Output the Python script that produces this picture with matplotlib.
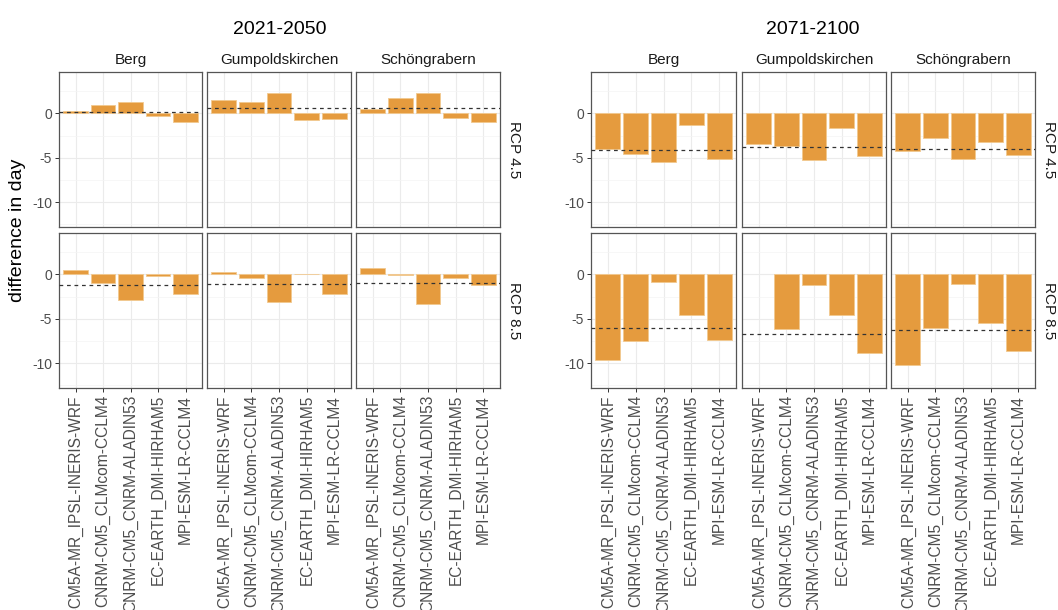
import numpy as np
import matplotlib
matplotlib.use("Agg")
from matplotlib import pyplot as plt

plt.rcParams['font.family'] = ['Liberation Sans', 'DejaVu Sans']

models = ["IPSL-CM5A-MR_IPSL-INERIS-WRF", "CNRM-CM5_CLMcom-CCLM4", "CNRM-CM5_CNRM-ALADIN53",
          "EC-EARTH_DMI-HIRHAM5", "MPI-ESM-LR-CCLM4"]
sites = ["Berg", "Gumpoldskirchen", "Schöngrabern"]
scenarios = ["RCP 4.5", "RCP 8.5"]
periods = ["2021-2050", "2071-2100"]

# rows: sites, columns: models
near_rcp45 = [[0.27, 0.90, 1.26, -0.30, -0.95],
              [1.45, 1.26, 2.29, -0.76, -0.69],
              [0.53, 1.72, 2.29, -0.57, -0.95]]
near_rcp85 = [[0.52, -0.93, -2.90, -0.15, -2.27],
              [0.30, -0.45, -3.09, 0.08, -2.27],
              [0.74, -0.11, -3.35, -0.37, -1.19]]
far_rcp45 = [[-4.03, -4.59, -5.49, -1.34, -5.11],
             [-3.43, -3.66, -5.30, -1.60, -4.85],
             [-4.22, -2.76, -5.11, -3.28, -4.74]]
far_rcp85 = [[-9.63, -7.47, -0.89, -4.61, -7.43],
             [np.nan, -6.20, -1.26, -4.54, -8.85],
             [-10.19, -6.02, -1.04, -5.50, -8.59]]

# ensemble reference per site (dashed line)
near_rcp45_ens = [0.15, 0.65, 0.57]
near_rcp85_ens = [-1.23, -1.12, -0.97]
far_rcp45_ens = [-4.14, -3.80, -4.03]
far_rcp85_ens = [-6.10, -6.73, -6.25]

data = {(0, 0): (near_rcp45, near_rcp45_ens), (0, 1): (near_rcp85, near_rcp85_ens),
        (1, 0): (far_rcp45, far_rcp45_ens), (1, 1): (far_rcp85, far_rcp85_ens)}

W, H = 1058, 610
BAR = '#E59B3E'
TXT = '#4D4D4D'

fig = plt.figure(figsize=(W / 100, H / 100), dpi=100)


def box(x0, y0, x1, y1):
    return [x0 / W, 1 - y1 / H, (x1 - x0) / W, (y1 - y0) / H]


col_x = [[(59, 202), (207, 351), (356, 500)],
         [(591, 736), (742, 886), (891, 1035)]]
row_y = [(72, 227), (233, 388)]
title_x = [280, 813]

for p in range(2):
    fig.text(title_x[p] / W, 1 - 30 / H, periods[p], ha='center', va='center',
             fontsize=14, color='black')
    for s in range(2):
        vals, ens = data[(p, s)]
        for j in range(3):
            x0, x1 = col_x[p][j]
            y0, y1 = row_y[s]
            ax = fig.add_axes(box(x0, y0, x1, y1))
            xs = np.arange(len(models))
            ax.bar(xs, vals[j], width=0.9, color=BAR, edgecolor='#F2C98F',
                   linewidth=0.6, zorder=2)
            ax.axhline(ens[j], color='#333333', lw=0.9, ls=(0, (3, 3)), zorder=3)
            ax.set_xlim(-0.6, 4.6)
            ax.set_ylim(-12.8, 4.65)
            ax.set_yticks([0, -5, -10])
            ax.set_yticks([2.5, -2.5, -7.5, -12.5], minor=True)
            ax.set_xticks(xs)
            ax.grid(True, which='major', color='#EBEBEB', lw=0.8, zorder=0)
            ax.grid(True, which='minor', axis='y', color='#F4F4F4', lw=0.5, zorder=0)
            ax.set_axisbelow(True)
            for sp in ax.spines.values():
                sp.set_color('#555555')
                sp.set_linewidth(0.9)
            ax.tick_params(which='minor', length=0)
            ax.tick_params(which='major', length=3, width=0.7, color='#333333',
                           labelcolor=TXT, pad=2)
            if j == 0:
                ax.set_yticklabels(['0', '-5', '-10'], fontsize=10)
            else:
                ax.tick_params(axis='y', length=0, labelleft=False)
            if s == 1:
                ax.set_xticklabels(models, rotation=90, fontsize=11.2, va='top')
            else:
                ax.tick_params(axis='x', length=0, labelbottom=False)
            if s == 0:
                fig.text((x0 + x1) / 2 / W, 1 - 60 / H, sites[j], ha='center',
                         va='center', fontsize=11, color='#1A1A1A')
            if j == 2:
                fig.text((x1 + 14) / W, 1 - (y0 + y1) / 2 / H, scenarios[s],
                         rotation=270, ha='center', va='center', fontsize=11,
                         color='#1A1A1A')

fig.text(18 / W, 1 - 230 / H, 'difference in day', rotation=90, ha='center',
         va='center', fontsize=14, color='black')

fig.savefig('out.png', dpi=100)
